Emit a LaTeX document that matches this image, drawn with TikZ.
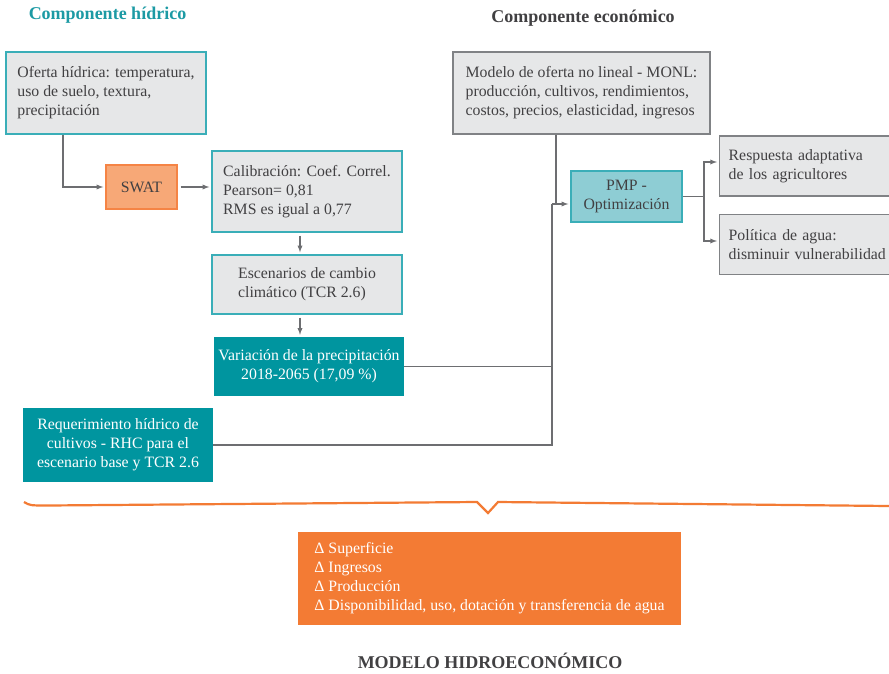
\documentclass[tikz,border=0pt]{standalone}
\usepackage{fontspec}
\setmainfont{Liberation Serif}
\usepackage{tikz}
\usetikzlibrary{positioning}
\usetikzlibrary{calc,arrows}
\definecolor{cajagris}{HTML}{E6E7E8}
\definecolor{bordeteal}{HTML}{3AAEB8}
\definecolor{tealosc}{HTML}{00959F}
\definecolor{tealclaro}{HTML}{8ECDD4}
\definecolor{swatfill}{HTML}{F7A877}
\definecolor{swatborde}{HTML}{F58445}
\definecolor{naranja}{HTML}{F37B34}
\definecolor{textogris}{HTML}{414042}
\definecolor{lineagris}{HTML}{6D6E71}
\definecolor{bordegris}{HTML}{808285}
\definecolor{tituloteal}{HTML}{1C9AA4}

\begin{document}
\begin{tikzpicture}[x=1pt,y=-1pt,
  every node/.style = {shape=rectangle, align=left, inner sep=0pt,
    text=textogris, font=\fontsize{15.8}{19}\selectfont},
  hidrico/.style = {draw=bordeteal, fill=cajagris, line width=1.4pt},
  economico/.style = {draw=bordegris, fill=cajagris, line width=1.4pt},
  resultado/.style = {fill=tealosc, text=white, align=center},
  titulo/.style = {font=\fontsize{18}{22}\selectfont\bfseries},
  conector/.style = {draw=lineagris, line width=1.3pt},
  flecha/.style = {conector, -latex, shorten >=2pt}
  ]
  \useasboundingbox (0,0) rectangle (889,673);
  % titulos
  \node[titulo, text=tituloteal] (tithid) at (107.5,15) {Componente hídrico};
  \node[titulo] (titeco) at (583,18) {Componente económico};
  \node[titulo] (titmod) at (490,661) {MODELO HIDROECONÓMICO};
  % componente hidrico
  \node[hidrico, minimum width=200, minimum height=82] (oferta) at (106,93)
    {Oferta hídrica: temperatura,\\uso de suelo, textura,\\precipitación};
  \node[draw=swatborde, fill=swatfill, line width=1.4pt, minimum width=71,
    minimum height=44] (swat) at (141.5,187) {SWAT};
  \node[hidrico, minimum width=190, minimum height=81] (calib) at (307,191.5)
    {Calibración: Coef. Correl.\\Pearson= 0,81\\RMS es igual a 0,77};
  \node[hidrico, minimum width=190, minimum height=59] (escen) at (307,284.5)
    {Escenarios de cambio\\climático (TCR 2.6)};
  \node[resultado, minimum width=190, minimum height=59] (varia) at (309,366.5)
    {Variación de la precipitación\\2018-2065 (17,09 \%)};
  \node[resultado, minimum width=190, minimum height=74] (reqhid) at (118,445)
    {Requerimiento hídrico de\\cultivos - RHC para el\\escenario base y TCR 2.6};
  % componente economico
  \node[economico, minimum width=257, minimum height=82] (monl) at (581.5,93)
    {Modelo de oferta no lineal - MONL:\\producción, cultivos, rendimientos,\\costos, precios, elasticidad, ingresos};
  \node[draw=bordeteal, fill=tealclaro, line width=1.4pt, align=center,
    minimum width=111, minimum height=51] (pmp) at (626.5,196.5) {PMP -\\Optimización};
  \node[economico, text width=170, inner xsep=9pt, minimum height=60,
    anchor=west] (resp) at (719,166) {Respuesta adaptativa\\de los agricultores};
  \node[economico, text width=170, inner xsep=9pt, minimum height=60,
    anchor=west] (polit) at (719,244.5) {Política de agua:\\disminuir vulnerabilidad};
  % resultado
  \node[fill=naranja, text=white, minimum width=383, minimum height=93] (delta) at (489.5,578.5)
    {Δ Superficie\\Δ Ingresos\\Δ Producción\\Δ Disponibilidad, uso, dotación y transferencia de agua};
  % conectores
  \coordinate (junta) at (552,204);
  \coordinate (reparte) at (704,196.5);
  \draw[flecha] ([xshift=-43pt]oferta.south) |- (swat.west);
  \draw[flecha, shorten <=3pt] (swat.east) -- (swat.east -| calib.west);
  \draw[flecha, shorten <=3pt] ([xshift=-7pt]calib.south) -- ([xshift=-7pt]calib.south |- escen.north);
  \draw[flecha, shorten <=3pt] ([xshift=-7pt]escen.south) -- ([xshift=-7pt]escen.south |- varia.north);
  \draw[conector] (varia.east) -| (junta);
  \draw[conector] (reqhid.east) -| (junta);
  \draw[conector] ([xshift=-25.5pt]monl.south) -- ([xshift=-25.5pt]monl.south |- junta);
  \draw[flecha] (junta) -- (junta -| pmp.west);
  \draw[conector] (pmp.east) -- (reparte);
  \draw[flecha] (reparte) |- ([yshift=4pt]resp.west);
  \draw[flecha] (reparte) |- ([yshift=3.5pt]polit.west);
  % llave
  \draw[draw=naranja, line width=2.2pt, line join=miter]
    (24,502) .. controls (30,505.5) .. (48,505.5) -- (477,502) -- (488,513)
    -- (498,502) -- (889,506);
\end{tikzpicture}
\end{document}
